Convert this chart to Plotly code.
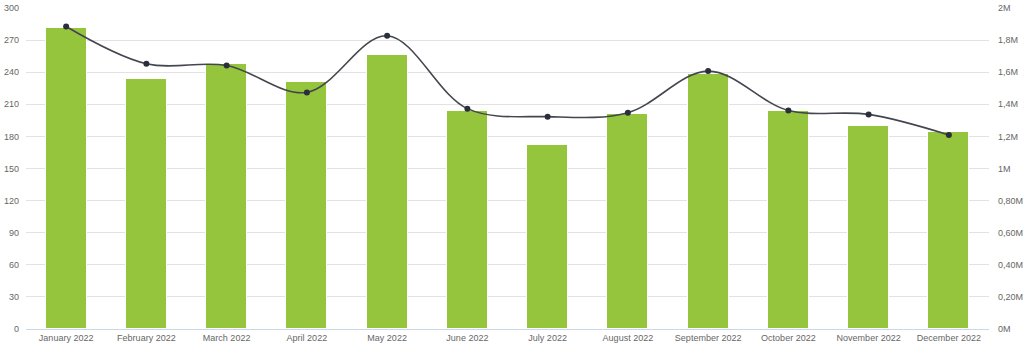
import plotly.graph_objects as go

months = ["January 2022", "February 2022", "March 2022", "April 2022", "May 2022", "June 2022",
          "July 2022", "August 2022", "September 2022", "October 2022", "November 2022", "December 2022"]
bar_values = [281.3, 233.3, 247.7, 231.1, 256.4, 203.4, 172.2, 200.9, 238.0, 203.4, 189.3, 184.4]
line_values = [1885000, 1653000, 1642000, 1474000, 1827000, 1373000, 1323000, 1348000, 1607000, 1362000, 1337000, 1209000]

left_ticks = [0, 30, 60, 90, 120, 150, 180, 210, 240, 270, 300]
right_tickvals = [0, 200000, 400000, 600000, 800000, 1000000, 1200000, 1400000, 1600000, 1800000, 2000000]
right_ticktext = ["0M", "0,20M", "0,40M", "0,60M", "0,80M", "1M", "1,2M", "1,4M", "1,6M", "1,8M", "2M"]

fig = go.Figure()
fig.add_trace(go.Bar(
    x=months, y=bar_values, width=0.51,
    marker=dict(color="#95c43d", line=dict(color="#ffffff", width=1)),
    yaxis="y", showlegend=False,
))
fig.add_trace(go.Scatter(
    x=months, y=line_values, mode="lines+markers",
    line=dict(color="#44464f", width=1.6, shape="spline", smoothing=1.0),
    marker=dict(color="#2b2f3b", size=6),
    yaxis="y2", showlegend=False,
))

font_color = "#666666"
fig.update_layout(
    width=1024, height=346,
    margin=dict(l=26, r=35, t=8, b=17),
    paper_bgcolor="white", plot_bgcolor="white",
    font=dict(family="Liberation Sans, Arial, sans-serif", size=9, color=font_color),
    bargap=0,
    xaxis=dict(
        type="category", range=[-0.5, 11.5], showgrid=False, automargin=False,
        showline=True, linecolor="#ccd6eb", linewidth=1,
        ticks="", tickfont=dict(size=9, color=font_color), fixedrange=True,
    ),
    yaxis=dict(
        range=[0, 300], tickvals=left_ticks, showgrid=True, gridcolor="#e2e2e2",
        gridwidth=1, zeroline=False, showline=False, ticks="", automargin=False,
        ticklabelstandoff=6,
        tickfont=dict(size=9, color=font_color),
    ),
    yaxis2=dict(
        range=[0, 2000000], overlaying="y", side="right", automargin=False,
        tickvals=right_tickvals, ticktext=right_ticktext, showgrid=False,
        zeroline=False, showline=False, ticks="", ticklabelstandoff=8,
        tickfont=dict(size=9, color=font_color),
    ),
)

fig.write_html("out.html")
